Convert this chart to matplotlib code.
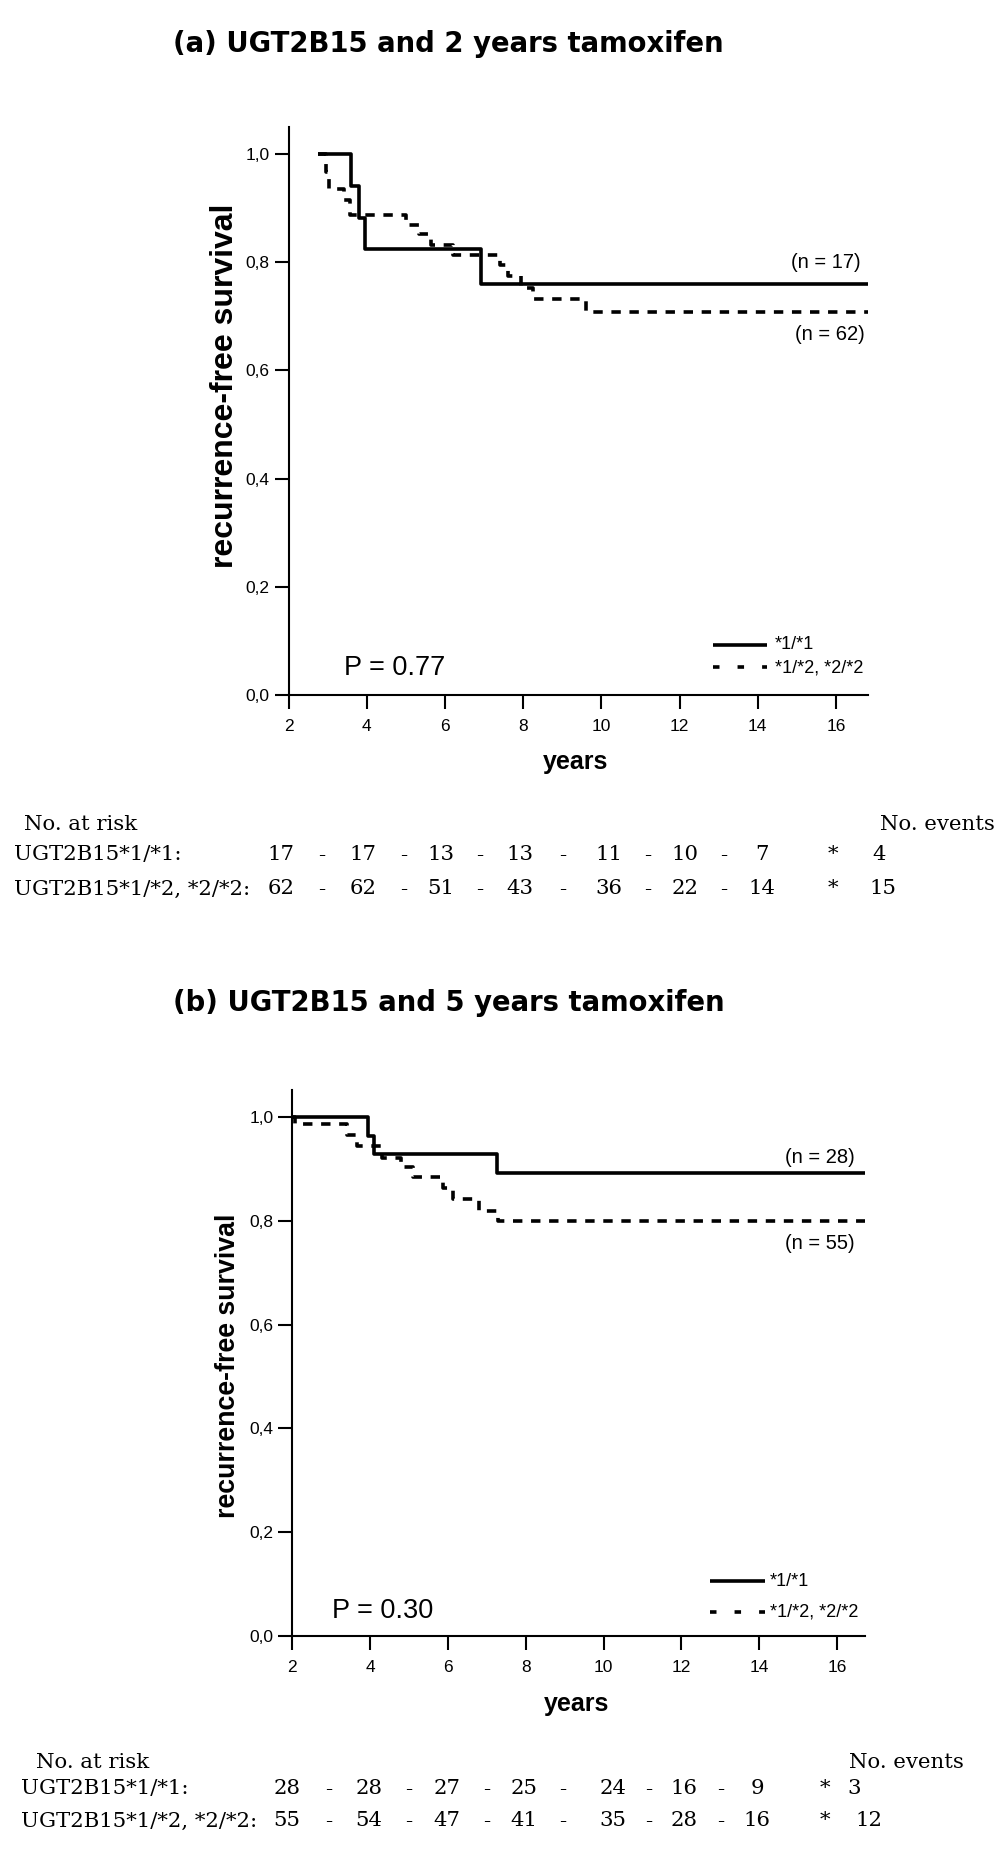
import matplotlib
matplotlib.use('Agg')
import matplotlib.pyplot as plt
from matplotlib.lines import Line2D

# ---------------- data ----------------
x_ticks = [2, 4, 6, 8, 10, 12, 14, 16]
y_ticks = [0.0, 0.2, 0.4, 0.6, 0.8, 1.0]
y_tick_labels = ['0,0', '0,2', '0,4', '0,6', '0,8', '1,0']

# panel (a): 2 years tamoxifen
a_solid_t = [2.76, 3.60, 3.81, 3.96, 6.92, 16.81]
a_solid_s = [1.000, 0.941, 0.882, 0.824, 0.760, 0.760]
a_dash_t = [2.76, 2.95, 3.04, 3.42, 3.57, 5.00, 5.33, 5.64, 6.20, 7.40, 7.62, 7.95, 8.25, 9.60, 16.81]
a_dash_s = [1.000, 0.968, 0.935, 0.915, 0.888, 0.869, 0.852, 0.832, 0.814, 0.795, 0.775, 0.752, 0.732, 0.709, 0.709]

# panel (b): 5 years tamoxifen
b_solid_t = [2.00, 3.95, 4.10, 7.25, 16.73]
b_solid_s = [1.000, 0.964, 0.929, 0.893, 0.893]
b_dash_t = [2.00, 2.08, 3.40, 3.67, 4.30, 4.79, 5.09, 5.88, 6.14, 6.80, 7.30, 16.73]
b_dash_s = [1.000, 0.987, 0.966, 0.945, 0.921, 0.905, 0.885, 0.863, 0.842, 0.819, 0.800, 0.800]

titles = ['(a) UGT2B15 and 2 years tamoxifen', '(b) UGT2B15 and 5 years tamoxifen']
p_values = ['P = 0.77', 'P = 0.30']
n_labels_a = ['(n = 17)', '(n = 62)']
n_labels_b = ['(n = 28)', '(n = 55)']
legend_labels = ['*1/*1', '*1/*2, *2/*2']

row_labels = ['UGT2B15*1/*1:', 'UGT2B15*1/*2, *2/*2:']
risk_a_11 = [17, 17, 13, 13, 11, 10, 7]
risk_a_12 = [62, 62, 51, 43, 36, 22, 14]
events_a = [4, 15]
risk_b_11 = [28, 28, 27, 25, 24, 16, 9]
risk_b_12 = [55, 54, 47, 41, 35, 28, 16]
events_b = [3, 12]

# ---------------- layout ----------------
W, H = 1004, 1854
fig = plt.figure(figsize=(W / 100, H / 100), dpi=100)
fig.patch.set_facecolor('white')

SANS = ['Liberation Sans', 'DejaVu Sans']
SERIF = ['DejaVu Serif', 'Liberation Serif']
TITLE = ['DejaVu Sans']


def fx(px):
    return px / W


def fy(py):
    return 1 - py / H


def make_axes(left, right, top, bottom, xmax, ymax):
    ax = fig.add_axes([fx(left), fy(bottom), (right - left) / W, (bottom - top) / H])
    ax.set_xlim(2, xmax)
    ax.set_ylim(0, ymax)
    for s in ['top', 'right']:
        ax.spines[s].set_visible(False)
    for s in ['left', 'bottom']:
        ax.spines[s].set_linewidth(1.5)
    ax.set_xticks(x_ticks)
    ax.set_xticklabels([str(v) for v in x_ticks], fontfamily=SANS, fontsize=12.5)
    ax.set_yticks(y_ticks)
    ax.set_yticklabels(y_tick_labels, fontfamily=SANS, fontsize=12.5)
    ax.tick_params(axis='both', length=10, width=1.5, direction='out')
    ax.tick_params(axis='x', pad=7.5)
    ax.tick_params(axis='y', pad=3.5)
    return ax


def curves(ax, st, ss, dt, ds):
    ax.step(dt, ds, where='post', color='black', lw=2.6,
            linestyle=(0, (2.6, 2.4)), clip_on=False)
    ax.step(st, ss, where='post', color='black', lw=2.6,
            solid_capstyle='butt', clip_on=False)


def legend(x0, x1, y_solid, y_dash, tx, ty_solid, ty_dash):
    fig.add_artist(Line2D([fx(x0), fx(x1)], [fy(y_solid)] * 2, color='black', lw=2.6,
                          solid_capstyle='butt', transform=fig.transFigure))
    fig.add_artist(Line2D([fx(x0), fx(x1)], [fy(y_dash)] * 2, color='black', lw=2.6,
                          linestyle=(0, (1.8, 5.0)), transform=fig.transFigure))
    fig.text(fx(tx), fy(ty_solid), legend_labels[0], fontfamily=SANS, fontsize=13,
             ha='left', va='center')
    fig.text(fx(tx), fy(ty_dash), legend_labels[1], fontfamily=SANS, fontsize=13,
             ha='left', va='center')


def risk_table(y_head, y1, y2, x_head, x_rows, x_events_right, cols, dashes, star_x, ev_x,
               r1, r2, ev):
    kw = dict(fontfamily=SERIF, fontsize=15.3, va='center')
    fig.text(fx(x_head), fy(y_head), 'No. at risk', ha='left', **kw)
    fig.text(fx(x_events_right), fy(y_head), 'No. events', ha='right', **kw)
    rows = [(y1, row_labels[0], r1, ev[0], ev_x[0]), (y2, row_labels[1], r2, ev[1], ev_x[1])]
    for yy, lab, row, e, ex in rows:
        fig.text(fx(x_rows), fy(yy), lab, ha='left', **kw)
        for cx, v in zip(cols, row):
            fig.text(fx(cx), fy(yy), str(v), ha='center', **kw)
        for dx in dashes:
            fig.text(fx(dx), fy(yy), '-', ha='center', **kw)
        fig.text(fx(star_x), fy(yy), '*', ha='center', **kw)
        fig.text(fx(ex), fy(yy), str(e), ha='center', **kw)


# ---------------- panel (a) ----------------
fig.text(fx(173), fy(52), titles[0], fontfamily=TITLE, fontweight='bold', fontsize=19.8,
         ha='left', va='baseline')
ax_a = make_axes(288.5, 867.7, 126.7, 694.7, 16.81, 1.051)
curves(ax_a, a_solid_t, a_solid_s, a_dash_t, a_dash_s)
fig.text(fx(576), fy(762), 'years', fontfamily=SANS, fontweight='bold', fontsize=18,
         ha='center', va='center')
fig.text(fx(225), fy(386), 'recurrence-free survival', fontfamily=SANS, fontweight='bold',
         fontsize=23, rotation=90, ha='center', va='center')
fig.text(fx(344), fy(675), p_values[0], fontfamily=SANS, fontsize=19.5, ha='left', va='baseline')
fig.text(fx(861), fy(262.5), n_labels_a[0], fontfamily=SANS, fontsize=14.5, ha='right', va='center')
fig.text(fx(865), fy(335), n_labels_a[1], fontfamily=SANS, fontsize=14.5, ha='right', va='center')
legend(713.3, 766.7, 645, 666.7, 775, 644.5, 668)

risk_table(825, 855, 889, 24, 14, 995,
           [281, 363, 441, 520, 609, 685, 762],
           [322, 404, 480, 563, 648, 724], 833, [879, 883],
           risk_a_11, risk_a_12, events_a)

# ---------------- panel (b) ----------------
fig.text(fx(173), fy(1011), titles[1], fontfamily=TITLE, fontweight='bold', fontsize=19.8,
         ha='left', va='baseline')
ax_b = make_axes(292.3, 865.3, 1090, 1635.8, 16.73, 1.053)
curves(ax_b, b_solid_t, b_solid_s, b_dash_t, b_dash_s)
fig.text(fx(577), fy(1704), 'years', fontfamily=SANS, fontweight='bold', fontsize=18,
         ha='center', va='center')
fig.text(fx(228), fy(1366), 'recurrence-free survival', fontfamily=SANS, fontweight='bold',
         fontsize=19.3, rotation=90, ha='center', va='center')
fig.text(fx(332), fy(1618.3), p_values[1], fontfamily=SANS, fontsize=19.5, ha='left', va='baseline')
fig.text(fx(855), fy(1157.5), n_labels_b[0], fontfamily=SANS, fontsize=14.5, ha='right', va='center')
fig.text(fx(855), fy(1243.5), n_labels_b[1], fontfamily=SANS, fontsize=14.5, ha='right', va='center')
legend(710, 764.6, 1580.7, 1611.7, 770, 1581, 1611.7)

risk_table(1762, 1789, 1821, 35.5, 21, 964,
           [287, 369, 447, 524, 613, 684, 757],
           [329, 409, 487, 563, 649, 721], 825, [854, 869],
           risk_b_11, risk_b_12, events_b)

fig.savefig('out.png', dpi=100, facecolor='white')
